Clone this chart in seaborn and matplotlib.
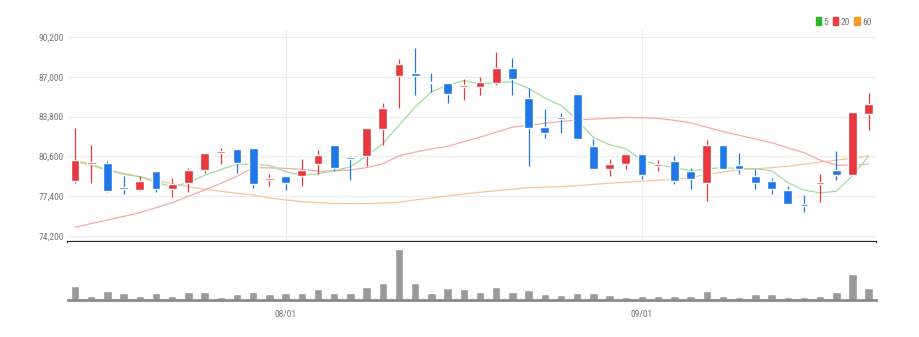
import numpy as np
import pandas as pd
import matplotlib
matplotlib.use("Agg")
import matplotlib.pyplot as plt
from matplotlib.patches import Patch
from matplotlib import font_manager
import seaborn as sns

# ---- data ----
opens = [78600, 80000, 80100, 78100, 77900, 79400, 78000, 78500, 79500, 80900,
         81200, 81300, 78700, 79000, 79000, 80000, 81500, 80500, 80600, 82800,
         87100, 87300, 86600, 86500, 86200, 86200, 86500, 87700, 85300, 83000,
         83800, 85600, 81400, 79600, 80000, 80800, 79800, 80200, 79400, 78500,
         81500, 79900, 79000, 78600, 77900, 76800, 78400, 79500, 79100, 84000]
highs = [82900, 81500, 80200, 79000, 79000, 79400, 78900, 79700, 80900, 81300,
         81200, 81300, 79200, 79000, 80400, 81100, 81500, 80600, 82900, 84900,
         88400, 89300, 87300, 86500, 86800, 87000, 89000, 88500, 86100, 84400,
         84100, 85700, 82000, 80400, 80900, 80800, 80300, 80600, 79700, 81900,
         81500, 80900, 79600, 78900, 78200, 77500, 79200, 81000, 84200, 85700]
lows = [78500, 78500, 77700, 77600, 77800, 77700, 77300, 77700, 79300, 80000,
        79300, 78100, 78200, 77900, 78200, 79200, 79400, 78700, 79800, 81500,
        84500, 85500, 85800, 84900, 85100, 85500, 86300, 85500, 79800, 82100,
        82500, 81900, 79500, 79000, 79600, 78800, 79400, 78400, 78000, 77000,
        79600, 79200, 78000, 77600, 76800, 76100, 76900, 78700, 79100, 82700]
closes = [80300, 80100, 77800, 78000, 78600, 78000, 78400, 79500, 80900, 81000,
          80100, 78400, 78900, 78500, 79500, 80700, 79700, 80400, 82900, 84500,
          88000, 87100, 86500, 85600, 86300, 86600, 87700, 86800, 82900, 82500,
          83600, 82000, 79600, 80000, 80800, 79100, 80000, 78600, 78800, 81500,
          79600, 79600, 78500, 78000, 76800, 76600, 78500, 79100, 84200, 84800]
ma5 = [80250, 80000, 79500, 79160, 78960, 78510, 78170, 78490, 79080, 79550,
       79970, 79970, 79870, 79380, 79080, 79200, 79460, 79760, 80630, 81630,
       83090, 84570, 85790, 86330, 86700, 86420, 86530, 86600, 86070, 85300,
       84700, 83560, 82130, 81540, 81220, 80320, 79920, 79700, 79450, 79590,
       79700, 79630, 79610, 79450, 78500, 77890, 77670, 77800, 79050, 80650]
ma20 = [74900, 75200, 75490, 75780, 76070, 76470, 76880, 77390, 77900, 78430,
        79000, 79700, 79680, 79640, 79560, 79400, 79450, 79500, 79700, 80000,
        80650, 80950, 81200, 81400, 81780, 82140, 82550, 82950, 83100, 83260,
        83400, 83530, 83600, 83660, 83740, 83700, 83660, 83500, 83300, 82950,
        82600, 82300, 82000, 81700, 81300, 80900, 80300, 79900, 79900, 79990]
ma60 = [80200, 79850, 79500, 79250, 78970, 78680, 78400, 78170, 77960, 77800,
        77640, 77500, 77250, 77100, 76960, 76880, 76830, 76800, 76810, 76850,
        76900, 77100, 77250, 77420, 77580, 77720, 77840, 77970, 78080, 78130,
        78170, 78250, 78350, 78440, 78520, 78600, 78680, 78760, 78900, 79150,
        79350, 79520, 79600, 79700, 79800, 79980, 80150, 80300, 80450, 80630]
volume = [1400, 400, 870, 730, 430, 730, 370, 770, 770, 270,
          570, 830, 600, 730, 700, 1130, 700, 700, 1300, 1670,
          5070, 1670, 730, 1200, 1130, 770, 1300, 770, 1030, 600,
          530, 730, 730, 530, 300, 370, 370, 430, 370, 870,
          430, 300, 570, 570, 300, 300, 430, 770, 2600, 1170]
date_ticks = [13, 35]
date_labels = ["08/01", "09/01"]
price_ticks = [74200, 77400, 80600, 83800, 87000, 90200]

df = pd.DataFrame({"open": opens, "high": highs, "low": lows, "close": closes,
                   "ma5": ma5, "ma20": ma20, "ma60": ma60, "volume": volume})
df["idx"] = np.arange(len(df))

sns.set_style("white")
# pick a narrow face if one is installed
names = {f.name for f in font_manager.fontManager.ttflist}
narrow = [n for n in ['Liberation Sans Narrow', 'DejaVu Sans Condensed',
                      'Roboto Condensed', 'Open Sans Condensed'] if n in names]
plt.rcParams['font.family'] = narrow + ['DejaVu Sans']
fsize = 6.8 if narrow else 6.0

UP, DOWN = '#e8383d', '#1f78e6'
C5, C20, C60 = '#27b827', '#ee3a3a', '#f39a2c'

W, H = 919, 337
fig = plt.figure(figsize=(W / 100, H / 100), dpi=100)
ax = fig.add_axes([68 / W, (H - 242) / H, (876 - 68) / W, (242 - 30) / H])
axv = fig.add_axes([68 / W, (H - 300) / H, (876 - 68) / W, (300 - 242) / H])

xlim = (-0.43, 49.45)

# moving averages
sns.lineplot(data=df, x="idx", y="ma60", color='#f7c698', lw=0.9, ax=ax)
sns.lineplot(data=df, x="idx", y="ma20", color='#f5a9a9', lw=0.9, ax=ax)
sns.lineplot(data=df, x="idx", y="ma5", color='#9fdd9f', lw=0.9, ax=ax)

# candles
up = df["close"] >= df["open"]
cols = np.where(up, UP, DOWN)
ax.vlines(df["idx"], df["low"], df["high"], colors=cols, lw=0.9, zorder=3)
body_lo = np.minimum(df["open"], df["close"])
body_h = np.maximum((df["close"] - df["open"]).abs(), 120)
ax.bar(df["idx"], body_h, bottom=body_lo, width=0.54, color=cols, zorder=4)

ax.set_xlim(*xlim)
ax.set_ylim(73720, 90760)
ax.set_yticks(price_ticks)
ax.set_yticklabels([f"{v:,}" for v in price_ticks])
ax.set_xticks(date_ticks)
ax.set_xticklabels([])
ax.grid(True, color='#ececec', lw=0.8)
ax.set_axisbelow(True)
ax.tick_params(axis='y', length=0, labelsize=fsize, colors='#777777', pad=3)
ax.tick_params(axis='x', length=0)
ax.set_xlabel("")
ax.set_ylabel("")
for s in ["top", "right", "left"]:
    ax.spines[s].set_visible(False)
ax.spines["bottom"].set_color('#222222')
ax.spines["bottom"].set_linewidth(1.6)

# legend
handles = [Patch(color=C5), Patch(color=C20), Patch(color=C60)]
ax.legend(handles, ["5", "20", "60"], ncol=3, loc='center right',
          bbox_to_anchor=(876 / W, (H - 22) / H), bbox_transform=fig.transFigure,
          frameon=False, fontsize=fsize, handlelength=0.55, handleheight=0.9,
          handletextpad=0.25, columnspacing=0.5, borderpad=0, labelcolor='#777777')

# volume
sns.barplot(data=df, x="idx", y="volume", color='#9a9a9a', width=0.52,
            native_scale=True, saturation=1, ax=axv)
axv.set_xlim(*xlim)
axv.set_ylim(0, 5800)
axv.set_yticks([])
axv.set_xticks(date_ticks)
axv.set_xticklabels(date_labels)
axv.tick_params(axis='x', length=3, width=0.8, colors='#777777', labelsize=fsize, pad=4)
axv.set_xlabel("")
axv.set_ylabel("")
for s in ["top", "right", "left"]:
    axv.spines[s].set_visible(False)
axv.spines["bottom"].set_color('#8a8a8a')
axv.spines["bottom"].set_linewidth(2)

fig.savefig("out.png", dpi=100)
